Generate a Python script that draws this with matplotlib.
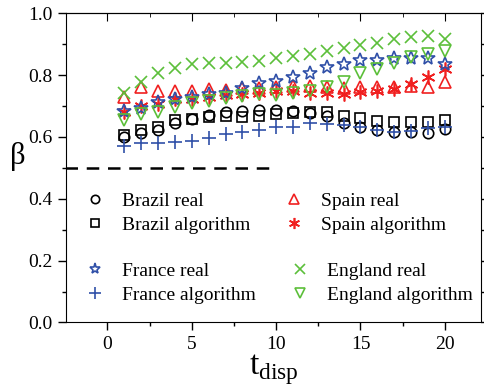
import numpy as np
import matplotlib
matplotlib.use("Agg")
import matplotlib.pyplot as plt
from matplotlib.ticker import MultipleLocator, FormatStrFormatter

plt.rcParams['font.family'] = ['Liberation Serif', 'DejaVu Serif']
plt.rcParams['mathtext.fontset'] = 'custom'
plt.rcParams['mathtext.rm'] = 'Liberation Serif'

# --- dane ---
t_disp = np.arange(1, 21)

brazil_real = [0.600, 0.612, 0.621, 0.645, 0.658, 0.672, 0.680, 0.685, 0.687, 0.687,
               0.683, 0.676, 0.669, 0.645, 0.633, 0.621, 0.615, 0.615, 0.612, 0.624]
brazil_algo = [0.605, 0.623, 0.631, 0.653, 0.658, 0.664, 0.667, 0.665, 0.669, 0.674,
               0.678, 0.679, 0.679, 0.669, 0.661, 0.651, 0.647, 0.649, 0.649, 0.653]
spain_real = [0.729, 0.760, 0.749, 0.749, 0.749, 0.755, 0.751, 0.758, 0.759, 0.762,
              0.763, 0.763, 0.762, 0.757, 0.760, 0.760, 0.760, 0.765, 0.760, 0.776]
spain_algo = [0.679, 0.701, 0.706, 0.722, 0.722, 0.730, 0.735, 0.740, 0.742, 0.749,
              0.749, 0.743, 0.741, 0.739, 0.744, 0.749, 0.755, 0.771, 0.794, 0.819]
france_real = [0.685, 0.692, 0.712, 0.722, 0.730, 0.739, 0.742, 0.758, 0.773, 0.781,
               0.794, 0.808, 0.826, 0.837, 0.848, 0.848, 0.856, 0.856, 0.855, 0.835]
france_algo = [0.572, 0.580, 0.580, 0.583, 0.588, 0.597, 0.608, 0.615, 0.623, 0.631,
               0.633, 0.644, 0.643, 0.637, 0.631, 0.623, 0.616, 0.620, 0.629, 0.633]
england_real = [0.742, 0.776, 0.808, 0.822, 0.835, 0.840, 0.839, 0.841, 0.846, 0.854,
                0.862, 0.867, 0.878, 0.889, 0.897, 0.905, 0.915, 0.923, 0.926, 0.917]
england_algo = [0.653, 0.674, 0.680, 0.696, 0.711, 0.717, 0.727, 0.731, 0.738, 0.737,
                0.741, 0.749, 0.760, 0.778, 0.805, 0.818, 0.840, 0.857, 0.867, 0.877]

threshold = 0.5
threshold_end = 10

BLACK = 'black'
RED = '#f02020'
BLUE = '#3050a8'
GREEN = '#5cbf3a'

fig = plt.figure(figsize=(4.84, 3.88), dpi=100)
ax = fig.add_axes([0.136, 0.169, 0.858, 0.797])

# linia przerywana na poziomie 0.5
ax.plot([-2.5, threshold_end], [threshold, threshold], color='black', lw=1.8,
        ls=(0, (5, 3.5)), zorder=1)

kw = dict(ls='none', mfc='none', mew=1.2)
h_br = ax.plot(t_disp, brazil_real, marker='o', ms=7.5, color=BLACK, label='Brazil real', **kw)[0]
h_ba = ax.plot(t_disp, brazil_algo, marker='s', ms=7, color=BLACK, label='Brazil algorithm', **kw)[0]
h_sr = ax.plot(t_disp, spain_real, marker='^', ms=9, color=RED, label='Spain real', **kw)[0]
h_sa = ax.plot(t_disp, spain_algo, marker=(6, 2, 0), ms=10, color=RED, label='Spain algorithm', **kw)[0]
h_fr = ax.plot(t_disp, france_real, marker='*', ms=10, color=BLUE, label='France real', **kw)[0]
h_fa = ax.plot(t_disp, france_algo, marker='+', ms=10, color=BLUE, label='France algorithm', **kw)[0]
h_er = ax.plot(t_disp, england_real, marker='x', ms=9, color=GREEN, label='England real', **kw)[0]
h_ea = ax.plot(t_disp, england_algo, marker='v', ms=9, color=GREEN, label='England algorithm', **kw)[0]

ax.set_xlim(-2.47, 22.15)
ax.set_ylim(0.0, 1.0)
ax.xaxis.set_major_locator(MultipleLocator(5))
ax.xaxis.set_minor_locator(MultipleLocator(2.5))
ax.yaxis.set_major_locator(MultipleLocator(0.2))
ax.yaxis.set_minor_locator(MultipleLocator(0.1))
ax.yaxis.set_major_formatter(FormatStrFormatter('%.1f'))

# osie: dół i lewa na zewnątrz, prawa na zewnątrz, góra do środka
ax.tick_params(which='both', right=True, top=False, labelsize=14, width=1, direction='out')
ax.tick_params(which='major', length=6)
ax.tick_params(which='minor', length=3)
sec = ax.secondary_xaxis('top')
sec.xaxis.set_major_locator(MultipleLocator(5))
sec.xaxis.set_minor_locator(MultipleLocator(2.5))
sec.tick_params(which='major', direction='in', length=6, labeltop=False)
sec.tick_params(which='minor', direction='in', length=3)

ax.set_xlabel(r'$\mathrm{t}_{\mathrm{disp}}$', fontsize=24, labelpad=0)
ax.set_ylabel('β', fontsize=22, rotation=0, ha='center', va='center')
ax.yaxis.set_label_coords(-0.116, 0.535)

leg_kw = dict(ncol=2, frameon=False, fontsize=14, loc='upper left', handlelength=1.0,
              handletextpad=0.9, columnspacing=1.75, labelspacing=0.35, borderpad=0,
              borderaxespad=0, markerscale=0.8, bbox_transform=fig.transFigure)
leg1 = ax.legend([h_br, h_ba, h_sr, h_sa],
                 ['Brazil real', 'Brazil algorithm', 'Spain real', 'Spain algorithm'],
                 bbox_to_anchor=(0.176, 0.505), **leg_kw)
ax.add_artist(leg1)
ax.legend([h_fr, h_fa, h_er, h_ea],
          ['France real', 'France algorithm', 'England real', 'England algorithm'],
          bbox_to_anchor=(0.176, 0.325), **leg_kw)

fig.savefig('out.png', dpi=100)
